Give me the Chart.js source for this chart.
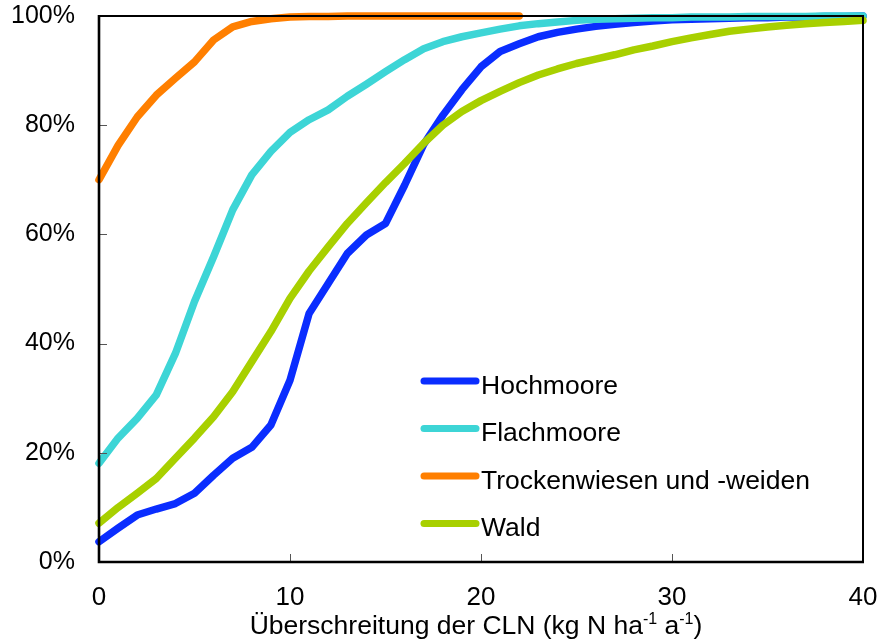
<!DOCTYPE html>
<html>
<head>
<meta charset="utf-8">
<script src="https://cdn.jsdelivr.net/npm/chart.js@4"></script>
<style>
  html, body { margin: 0; padding: 0; background: #fff; }
  #wrap { width: 877px; height: 644px; }
</style>
</head>
<body>
<div id="wrap"><canvas id="cln"></canvas></div>
<script>
// x values: exceedance of critical loads (kg N / ha / a)
const xValues = [0, 1, 2, 3, 4, 5, 6, 7, 8, 9, 10, 11, 12, 13, 14, 15, 16, 17, 18, 19, 20,
  21, 22, 23, 24, 25, 26, 27, 28, 29, 30, 31, 32, 33, 34, 35, 36, 37, 38, 39, 40];

// cumulative share (%) per ecosystem type
const hochmoore = [3.7, 6.2, 8.6, 9.7, 10.7, 12.6, 15.9, 19.0, 21.0, 25.1, 33.3,
  45.5, 51.0, 56.5, 59.9, 62.0, 69.0, 76.5, 81.8, 86.5, 90.7,
  93.5, 94.9, 96.2, 97.0, 97.6, 98.1, 98.5, 98.8, 99.1, 99.3,
  99.4, 99.5, 99.6, 99.7, 99.7, 99.8, 99.8, 99.9, 99.9, 100];
const flachmoore = [18.1, 22.7, 26.3, 30.6, 38.2, 47.7, 55.9, 64.5, 70.9, 75.2, 78.7,
  81.0, 82.8, 85.3, 87.5, 89.8, 92.0, 94.0, 95.3, 96.2, 96.9,
  97.6, 98.2, 98.6, 98.9, 99.2, 99.4, 99.5, 99.6, 99.7, 99.7,
  99.8, 99.8, 99.8, 99.9, 99.9, 99.9, 99.9, 100, 100, 100];
const trockenwiesen = [70.0, 76.3, 81.5, 85.5, 88.6, 91.6, 95.6, 98.0, 99.0, 99.5, 99.8,
  99.9, 99.9, 100, 100, 100, 100, 100, 100, 100, 100, 100, 100];
const wald = [7.1, 10.0, 12.6, 15.3, 19.0, 22.7, 26.6, 31.2, 36.7, 42.2, 48.3,
  53.3, 57.7, 62.0, 65.8, 69.5, 73.0, 76.7, 80.0, 82.5, 84.5,
  86.2, 87.8, 89.2, 90.3, 91.3, 92.1, 92.9, 93.8, 94.5, 95.3,
  96.0, 96.6, 97.2, 97.6, 98.0, 98.3, 98.6, 98.8, 99.0, 99.2];

const seriesNames = ['Hochmoore', 'Flachmoore', 'Trockenwiesen und -weiden', 'Wald'];
const seriesColors = ['#0A2DFF', '#3DD5D6', '#FF7F00', '#A8D000'];
const seriesValues = [hochmoore, flachmoore, trockenwiesen, wald];

const FONT = '"Liberation Sans", Arial, sans-serif';

function toPoints(values) {
  return values.map((v, i) => ({ x: xValues[i], y: v }));
}

// frame with inward tick marks
const framePlugin = {
  id: 'frame',
  afterDatasetsDraw(chart) {
    const { ctx, chartArea: a, scales } = chart;
    ctx.save();
    ctx.strokeStyle = '#555';
    ctx.lineWidth = 1;
    scales.y.ticks.forEach(t => {
      const y = Math.round(scales.y.getPixelForValue(t.value)) + 0.5;
      ctx.beginPath(); ctx.moveTo(a.left, y); ctx.lineTo(a.left + 8, y); ctx.stroke();
    });
    scales.x.ticks.forEach(t => {
      const x = Math.round(scales.x.getPixelForValue(t.value)) + 0.5;
      ctx.beginPath(); ctx.moveTo(x, a.bottom); ctx.lineTo(x, a.bottom - 8); ctx.stroke();
    });
    ctx.strokeStyle = '#000';
    ctx.lineWidth = 2;
    ctx.beginPath();
    ctx.moveTo(a.left, a.top); ctx.lineTo(a.right, a.top); ctx.lineTo(a.right, a.bottom);
    ctx.stroke();
    ctx.lineWidth = 2.6;
    ctx.beginPath();
    ctx.moveTo(a.left, a.top - 1); ctx.lineTo(a.left, a.bottom); ctx.lineTo(a.right + 1, a.bottom);
    ctx.stroke();
    ctx.restore();
  }
};

// legend inside plot + x title with superscripts
const textPlugin = {
  id: 'texts',
  afterDraw(chart) {
    const ctx = chart.ctx;
    ctx.save();
    ctx.font = '26.5px ' + FONT;
    ctx.fillStyle = '#000';
    ctx.textBaseline = 'alphabetic';
    ctx.lineCap = 'round';
    ctx.lineWidth = 7;
    chart.data.datasets.forEach((ds, i) => {
      const y = 381 + i * 47.5;
      ctx.strokeStyle = ds.borderColor;
      ctx.beginPath(); ctx.moveTo(424, y); ctx.lineTo(476, y); ctx.stroke();
      ctx.fillText(ds.label, 481, y + 12.5);
    });

    // axis title
    const parts = [['Überschreitung der CLN (kg N ha', false], ['-1', true], [' a', false], ['-1', true], [')', false]];
    const big = '26.5px ' + FONT, small = '16px ' + FONT;
    let w = 0;
    parts.forEach(p => { ctx.font = p[1] ? small : big; w += ctx.measureText(p[0]).width; });
    let x = 476 - w / 2;
    const base = 634;
    parts.forEach(p => {
      ctx.font = p[1] ? small : big;
      ctx.fillText(p[0], x, p[1] ? base - 10 : base);
      x += ctx.measureText(p[0]).width;
    });
    ctx.restore();
  }
};

const datasets = seriesNames.map((name, i) => ({
  label: name,
  data: toPoints(seriesValues[i]),
  borderColor: seriesColors[i],
  backgroundColor: seriesColors[i],
  borderWidth: 7.5,
  borderCapStyle: 'round',
  borderJoinStyle: 'round',
  pointRadius: 0,
  fill: false,
  tension: 0,
  clip: 8,
  order: seriesNames.length - i
}));

new Chart(document.getElementById('cln'), {
  type: 'line',
  data: { datasets },
  plugins: [framePlugin, textPlugin],
  options: {
    responsive: true,
    maintainAspectRatio: false,
    animation: false,
    layout: { padding: { left: 0, right: 14, top: 16, bottom: 0 } },
    plugins: { legend: { display: false }, tooltip: { enabled: false } },
    scales: {
      x: {
        type: 'linear',
        min: 0, max: 40,
        grid: { display: false, drawTicks: false },
        border: { display: false },
        ticks: { stepSize: 10, color: '#000', padding: 20, font: { family: FONT, size: 26 } },
        afterFit(s) { s.height = 82; s.paddingLeft = 0; s.paddingRight = 0; }
      },
      y: {
        min: 0, max: 100,
        grid: { display: false, drawTicks: false },
        border: { display: false },
        ticks: {
          stepSize: 20, color: '#000', padding: 24, font: { family: FONT, size: 25 },
          callback: v => v + '%'
        },
        afterFit(s) { s.width = 99; s.paddingTop = 0; s.paddingBottom = 0; }
      }
    }
  }
});
</script>
</body>
</html>
